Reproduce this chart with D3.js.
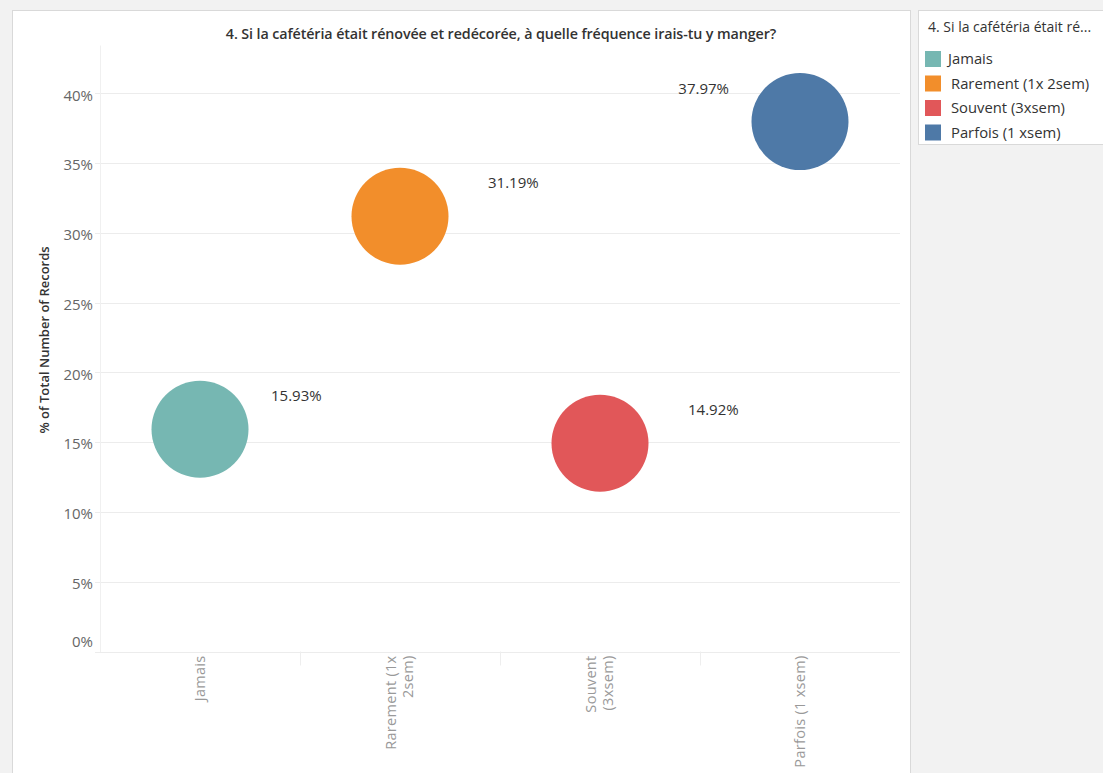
<!DOCTYPE html>
<html lang="fr">
<head>
<meta charset="utf-8">
<title>Cafétéria</title>
<script src="https://d3js.org/d3.v7.min.js"></script>
<style>
  body { margin: 0; background: #f2f2f2; font-family: "Open Sans", Lato, sans-serif; }
</style>
</head>
<body>
<script>
  // data
  var categories = ["Jamais", "Rarement (1x 2sem)", "Souvent (3xsem)", "Parfois (1 xsem)"];
  var axisLines = [["Jamais"], ["Rarement (1x", "2sem)"], ["Souvent", "(3xsem)"], ["Parfois (1 xsem)"]];
  var values = [15.93, 31.19, 14.92, 37.97];
  var colors = ["#76b7b2", "#f28e2b", "#e15759", "#4e79a7"];
  var yTicks = [0, 5, 10, 15, 20, 25, 30, 35, 40];
  var title = "4. Si la cafétéria était rénovée et redécorée, à quelle fréquence irais-tu y manger?";
  var legendTitle = "4. Si la cafétéria était ré...";

  var w = 1103, h = 773;
  var plot = {left: 100, right: 900, top: 45, bottom: 651.5};

  var svg = d3.select("body").append("svg")
      .attr("width", w)
      .attr("height", h)
      .style("display", "block");

  // panels
  svg.append("rect").attr("x", 0).attr("y", 0).attr("width", w).attr("height", h).attr("fill", "#f2f2f2");
  svg.append("rect").attr("x", 12.5).attr("y", 10.5).attr("width", 898).attr("height", 770)
      .attr("fill", "#fff").attr("stroke", "#d9d9d9");
  svg.append("rect").attr("x", 918.5).attr("y", 10.5).attr("width", 190).attr("height", 134)
      .attr("fill", "#fff").attr("stroke", "#d9d9d9");

  var x = d3.scaleBand().domain(categories).range([plot.left, plot.right]);
  var y = d3.scaleLinear().domain([0, 43.46]).range([plot.bottom, plot.top]);

  // title
  svg.append("text")
      .attr("x", 501).attr("y", 39)
      .attr("text-anchor", "middle")
      .attr("font-size", 14.3).attr("font-weight", 600).attr("fill", "#333")
      .attr("letter-spacing", -0.1)
      .text(title);

  // gridlines
  svg.append("g").selectAll("line").data(yTicks).enter().append("line")
      .attr("x1", plot.left - 5).attr("x2", plot.right)
      .attr("y1", d => Math.round(y(d)) + 0.5).attr("y2", d => Math.round(y(d)) + 0.5)
      .attr("stroke", "#ececec");

  // y axis
  var yAxis = svg.append("g")
      .attr("transform", `translate(${plot.left},0)`)
      .call(d3.axisLeft(y).tickValues(yTicks).tickFormat(d => d + "%").tickSize(0).tickPadding(7));
  yAxis.select(".domain").attr("stroke", "#f0f0f0");
  yAxis.selectAll("text")
      .attr("font-family", "'Open Sans', sans-serif").attr("font-size", 15).attr("fill", "#666")
      .attr("dy", d => d === 0 ? "-0.35em" : "0.45em");

  svg.append("text")
      .attr("transform", `translate(49,340) rotate(-90)`)
      .attr("text-anchor", "middle")
      .attr("font-size", 13).attr("font-weight", 600).attr("fill", "#333")
      .text("% of Total Number of Records");

  // x header
  svg.append("g").selectAll("line").data(categories.slice(1)).enter().append("line")
      .attr("x1", d => x(d) + 0.5).attr("x2", d => x(d) + 0.5)
      .attr("y1", plot.bottom).attr("y2", plot.bottom + 14)
      .attr("stroke", "#eeeeee");

  var xl = svg.append("g").selectAll("text").data(categories).enter().append("text")
      .attr("transform", (d, i) => {
        var n = axisLines[i].length;
        var cx = x(d) + x.bandwidth() / 2 - (n - 1) * 8.5 + 4.5;
        return `translate(${cx},${plot.bottom + 4}) rotate(-90)`;
      })
      .attr("text-anchor", "end")
      .attr("font-size", 14.5).attr("fill", "#999").attr("letter-spacing", 0.3);
  xl.each(function(d, i) {
    d3.select(this).selectAll("tspan").data(axisLines[i]).enter().append("tspan")
        .attr("x", 0)
        .attr("dy", (t, j) => j === 0 ? 0 : 17)
        .text(t => t);
  });

  // circles
  var pts = categories.map((c, i) => ({c: c, v: values[i], col: colors[i]}));
  svg.append("g").selectAll("circle").data(pts).enter().append("circle")
      .attr("cx", d => x(d.c) + x.bandwidth() / 2)
      .attr("cy", d => y(d.v))
      .attr("r", 48.5)
      .attr("fill", d => d.col);

  // labels: to the right of the bubble, or to the left when near the edge
  svg.append("g").selectAll("text").data(pts).enter().append("text")
      .attr("x", (d, i) => {
        var cx = x(d.c) + x.bandwidth() / 2;
        return i === categories.length - 1 ? cx - 71 : cx + (i === 0 ? 71 : 88);
      })
      .attr("y", d => y(d.v) - 28)
      .attr("text-anchor", (d, i) => i === categories.length - 1 ? "end" : "start")
      .attr("font-size", 15).attr("fill", "#333")
      .text(d => d.v.toFixed(2) + "%");

  // legend
  svg.append("text").attr("x", 928).attr("y", 32)
      .attr("font-size", 14).attr("fill", "#333").text(legendTitle);
  var lg = svg.append("g").selectAll("g").data(pts).enter().append("g")
      .attr("transform", (d, i) => `translate(925,${51 + i * 24.5})`);
  lg.append("rect").attr("width", 16).attr("height", 16).attr("fill", d => d.col);
  lg.append("text").attr("x", (d, i) => i === 0 ? 23 : 26).attr("y", 13)
      .attr("font-size", 14.8).attr("fill", "#333").text(d => d.c);
</script>
</body>
</html>
